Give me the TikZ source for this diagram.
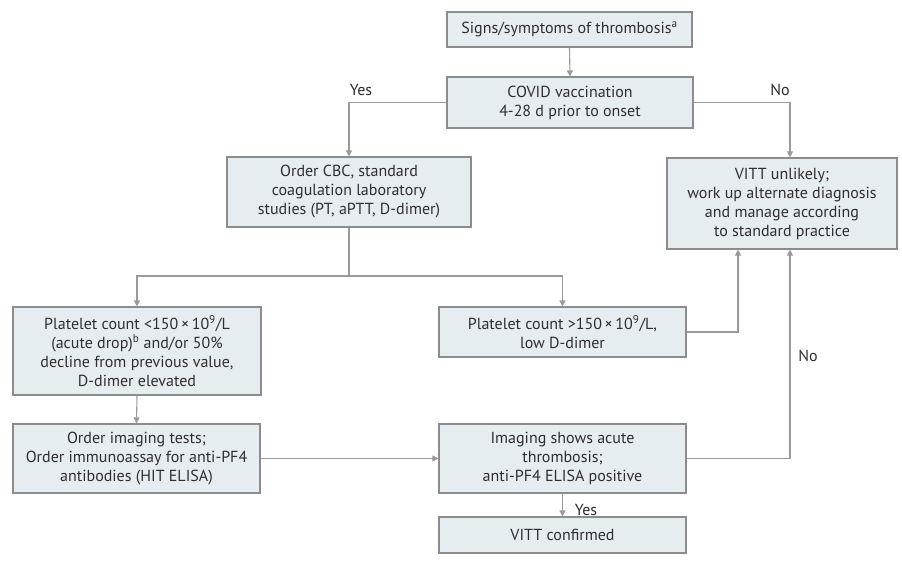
\documentclass[tikz,border=0pt]{standalone}
\usepackage{fontspec}
\setmainfont{PT Sans}
\usetikzlibrary{arrows.meta}
\definecolor{boxfill}{HTML}{E6EDF1}
\definecolor{boxline}{HTML}{8C8C8C}
\definecolor{conn}{HTML}{9A9A9A}
\definecolor{txt}{HTML}{2E2E2E}
\tikzset{
  flowbox/.style={draw=boxline, fill=boxfill, line width=1.1pt, align=center,
    inner sep=0pt, text=txt, font=\fontsize{16}{19}\selectfont},
  conn/.style={draw=conn, line width=1.1pt},
  arr/.style={conn, -{Triangle[width=6pt,length=6pt]}},
  lbl/.style={text=txt, font=\fontsize{16}{19}\selectfont, inner sep=0pt}
}
\begin{document}
\begin{tikzpicture}[x=1pt,y=-1pt]
\useasboundingbox[fill=white] (0,0) rectangle (902,565);
\node[flowbox, minimum width=245pt, minimum height=35pt] (signs) at (569.5,29.5) {Signs/symptoms of thrombosis\textsuperscript{a}};
\node[flowbox, minimum width=246pt, minimum height=51pt] (covid) at (570,102.5) {COVID vaccination\\4-28 d prior to onset};
\node[flowbox, minimum width=244pt, minimum height=70pt] (cbc) at (349,192) {Order CBC, standard\\coagulation laboratory\\studies (PT, aPTT, D-dimer)};
\node[flowbox, minimum width=230pt, minimum height=91pt] (unlikely) at (782,203.5) {VITT unlikely;\\work up alternate diagnosis\\and manage according\\to standard practice};
\node[flowbox, minimum width=248pt, minimum height=88pt] (low) at (137,351) {Platelet count <150\,×\,10\textsuperscript{9}/L\\(acute drop)\textsuperscript{b} and/or 50\%\\decline from previous value,\\D-dimer elevated};
\node[flowbox, minimum width=247pt, minimum height=50pt] (high) at (562.5,332) {Platelet count >150\,×\,10\textsuperscript{9}/L,\\low D-dimer};
\node[flowbox, minimum width=247pt, minimum height=69pt] (order) at (136.5,458.5) {Order imaging tests;\\Order immunoassay for anti-PF4\\antibodies (HIT ELISA)};
\node[flowbox, minimum width=247pt, minimum height=69pt] (imaging) at (562.5,458.5) {Imaging shows acute\\thrombosis;\\anti-PF4 ELISA positive};
\node[flowbox, minimum width=247pt, minimum height=36pt] (confirmed) at (562.5,535) {VITT confirmed};

\coordinate (split) at (349,276);

\draw[arr] (signs.south) -- (covid.north);
\draw[arr] (covid.west) -- (cbc.north |- covid.west) -- (cbc.north);
\draw[arr] (covid.east) -| ([xshift=8pt]unlikely.north);
\draw[conn] (cbc.south) -- (split);
\draw[arr] (split) -| (low.north);
\draw[arr] (split) -| (high.north);
\draw[arr] (high.east) -| (738,0 |- unlikely.south);
\draw[arr] (low.south) -- (order.north);
\draw[arr] (order.east) -- (imaging.west);
\draw[arr] (imaging.east) -| ([xshift=8pt]unlikely.south);
\draw[arr] (imaging.south) -- (confirmed.north);

\node[lbl] (yes1) at (361,90) {Yes};
\node[lbl] (no1) at (780,90) {No};
\node[lbl] (no2) at (808,356) {No};
\node[lbl] (yes2) at (586,510) {Yes};
\end{tikzpicture}
\end{document}
